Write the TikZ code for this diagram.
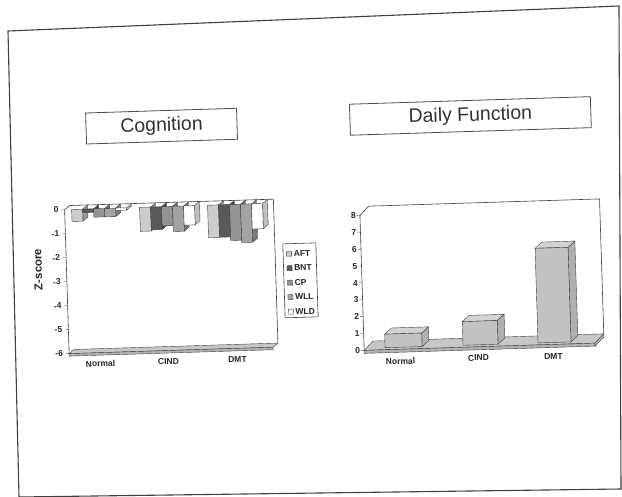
\documentclass[tikz,border=0pt]{standalone}
\usepackage{fontspec}
\setmainfont{Liberation Sans}
\usetikzlibrary{calc}
\tikzset{t/.style={font=\fontsize{19.5}{20}\selectfont, text=black!80}}
\tikzset{l/.style={font=\fontsize{8.5}{9}\selectfont\bfseries, text=black!85, inner sep=0pt}}
\tikzset{box/.style={draw=black!70, line width=0.8pt}}
\tikzset{face/.style={draw=black!75, line width=0.4pt}}
\definecolor{aft}{gray}{0.8}
\definecolor{bnt}{gray}{0.35}
\definecolor{cp}{gray}{0.58}
\definecolor{wll}{gray}{0.64}
\definecolor{wld}{gray}{1}

% hanging bar of the z-score chart: left x, value, colour
\newcommand\zbar[3]{%
  \filldraw[face, fill=#3!75!black] (#1+11,202) -- ++(5,-4) -- ({#1+16},{198-24*(#2)}) -- ({#1+11},{202-24*(#2)}) -- cycle;
  \filldraw[face, fill=#3] (#1,202) rectangle ({#1+11},{202-24*(#2)});
}
% standing bar of the function chart: left x, width, value
\newcommand\fbar[3]{%
  \filldraw[face, fill=gray!62] ({#1+#2},350) -- ++(7,-6) -- ({#1+#2+7},{344-16.9*(#3)}) -- ({#1+#2},{350-16.9*(#3)}) -- cycle;
  \filldraw[face, fill=gray!35] (#1,{350-16.9*(#3)}) -- ++(7,-6) -- ++(#2,0) -- ++(-7,6) -- cycle;
  \filldraw[face, fill=gray!48] (#1,350) rectangle ({#1+#2},{350-16.9*(#3)});
}

\begin{document}
\begin{tikzpicture}[x=1pt, y=-1pt]
\useasboundingbox (0,0) rectangle (622,497);
\fill[white] (0,0) rectangle (622,497);
% slide border
\draw[black!75, line width=1.1pt] (8,31) -- (619,6) -- (621,489) -- (19,497) -- cycle;

\begin{scope}[rotate around={1.8:(311,250)}, transform shape]
  % titles
  \node[t, box, minimum width=151pt, minimum height=31pt] (cog) at (165.5,121.5) {Cognition};
  \node[t, box, minimum width=241pt, minimum height=31pt] (daily) at (474.5,121) {Daily Function};

  % z-score chart: walls and floor
  \draw[black!75, line width=0.6pt] (66,346) -- (66,202) -- (71,198) -- (275,198) -- (275,342);
  \filldraw[face, fill=gray!45] (66,346) -- (71,342) -- (275,342) -- (270,346) -- cycle;
  \filldraw[face, fill=gray!60] (66,346) rectangle (270,348.5);
  \foreach \v in {0,...,6}
    \draw[black!75] (63,202+24*\v) -- (66,202+24*\v);
  \foreach \v/\s in {0/0,1/-1,2/-2,3/-3,4/-4,5/-5,6/-6}
    \node[l, anchor=east] (zt\v) at (60,202+24*\v) {\s};
  \node[l, font=\fontsize{11.5}{12}\selectfont\bfseries, rotate=90] (zlab) at (37.5,261) {Z-score};

  % normal
  \zbar{73}{-0.5}{aft} \zbar{84}{-0.15}{bnt} \zbar{95}{-0.35}{cp} \zbar{106}{-0.35}{wll} \zbar{117}{-0.1}{wld}
  % cind
  \zbar{141}{-1.0}{aft} \zbar{152}{-0.95}{bnt} \zbar{163}{-0.8}{cp} \zbar{174}{-1.05}{wll} \zbar{185}{-0.8}{wld}
  % dmt
  \zbar{209}{-1.35}{aft} \zbar{220}{-1.35}{bnt} \zbar{231}{-1.5}{cp} \zbar{242}{-1.6}{wll} \zbar{253}{-1.05}{wld}

  \node[l] (zn) at (97,357) {Normal};
  \node[l] (zc) at (165,357) {CIND};
  \node[l] (zd) at (234,357) {DMT};

  % legend
  \draw[black!75, line width=0.6pt] (283,243) rectangle (316,317);
  \foreach \c/\s [count=\i from 0] in {aft/AFT,bnt/BNT,cp/CP,wll/WLL,wld/WLD} {
    \filldraw[face, fill=\c] (286.5,{250.5+14.5*\i}) rectangle (291.5,{255.5+14.5*\i});
    \node[l, anchor=west] (lg\i) at (293.5,{253+14.5*\i}) {\s};
  }

  % daily function chart: walls and floor
  \draw[black!75, line width=0.6pt] (361,352) -- (361,217) -- (370,208) -- (601,208) -- (601,343);
  \filldraw[face, fill=gray!45] (361,352) -- (370,343) -- (601,343) -- (592,352) -- cycle;
  \filldraw[face, fill=gray!60] (361,352) rectangle (592,355);
  \filldraw[face, fill=gray!55] (592,352) -- (601,343) -- (601,346) -- (592,355) -- cycle;
  \foreach \v in {0,...,8} {
    \draw[black!75] (358,352-16.9*\v) -- (361,352-16.9*\v);
    \node[l, anchor=east] (ft\v) at (357,352-16.9*\v) {\v};
  }

  \fbar{382}{37}{0.8}
  \fbar{460}{35}{1.4}
  \fbar{535}{33}{5.6}

  \node[l] (fn) at (397,364) {Normal};
  \node[l] (fc) at (475,363) {CIND};
  \node[l] (fd) at (550,364) {DMT};
\end{scope}
\end{tikzpicture}
\end{document}
